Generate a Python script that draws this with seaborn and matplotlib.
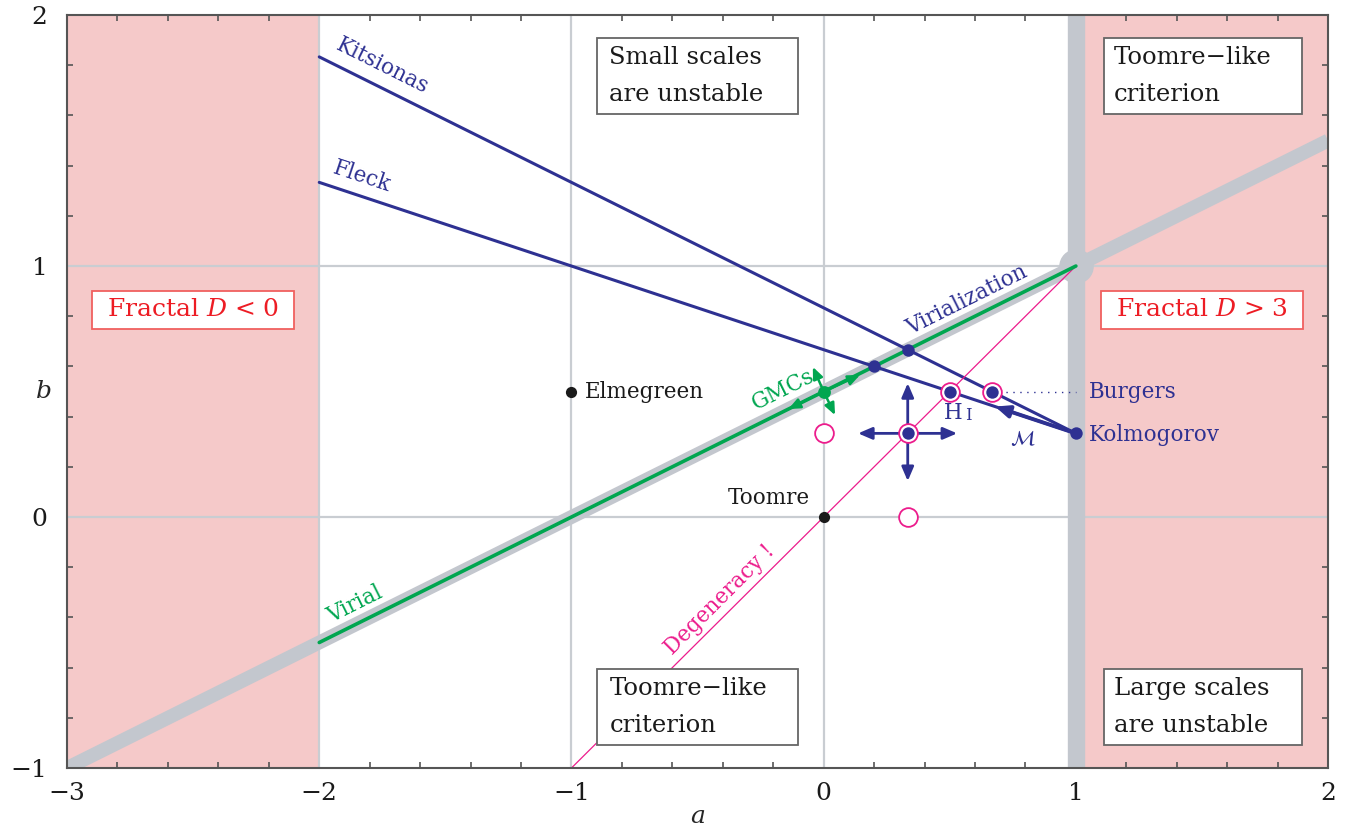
import numpy as np
import pandas as pd
import matplotlib
matplotlib.use("Agg")
import matplotlib.pyplot as plt
from matplotlib.patches import Rectangle
import seaborn as sns

# ---------------- data ----------------
virial_a = [-3.0, 2.0]
virial_b = [-1.0, 1.5]
green_a = [-2.0, 1.0]
green_b = [-0.5, 1.0]
kitsionas_a = [-2.0, 1.0]
kitsionas_b = [1.8333, 0.3333]
fleck_a = [-2.0, 1.0]
fleck_b = [1.3333, 0.3333]
degeneracy_a = [-1.0, 1.0]
degeneracy_b = [-1.0, 1.0]
burgers_dot_a = [0.6667, 1.0]
burgers_dot_b = [0.5, 0.5]

blue_pts_a = [0.2, 0.3333, 0.5, 0.6667, 0.3333, 1.0]
blue_pts_b = [0.6, 0.6667, 0.5, 0.5, 0.3333, 0.3333]
ring_pts_a = [0.0, 0.3333, 0.3333, 0.5, 0.6667]
ring_pts_b = [0.3333, 0.0, 0.3333, 0.5, 0.5]
black_pts_a = [0.0, -1.0]
black_pts_b = [0.0, 0.5]
gmc_a = [0.0]
gmc_b = [0.5]

xticks = [-3, -2, -1, 0, 1, 2]
yticks = [-1, 0, 1, 2]

# colours
PINK = "#f5c9c9"
GRID = "#c9cdd2"
THICK = "#c3c7ce"
BLUE = "#2e3192"
GREEN = "#00a650"
MAG = "#ec1c8c"
RED = "#ed1c24"
DARK = "#555555"

sns.set_theme(style="ticks")
plt.rcParams["font.family"] = ["DejaVu Serif"]
plt.rcParams["mathtext.fontset"] = "dejavuserif"

fig = plt.figure(figsize=(13.57, 8.31), dpi=100)
ax = fig.add_axes([0.0494, 0.0758, 0.9293, 0.9061])

# shaded regions
ax.axvspan(-3, -2, color=PINK, lw=0, zorder=0)
ax.axvspan(1, 2, color=PINK, lw=0, zorder=0)

# grid lines
for v in [-2, -1, 0]:
    ax.axvline(v, color=GRID, lw=1.6, zorder=1)
for h in [0, 1]:
    ax.axhline(h, color=GRID, lw=1.6, zorder=1)

# thick gray bands
sns.lineplot(x=virial_a, y=virial_b, color=THICK, lw=10, ax=ax, zorder=2,
             solid_capstyle="butt", sort=False, legend=False)
ax.axvline(1, color=THICK, lw=12.5, zorder=2)
ax.scatter([1.0], [1.0], s=620, color=THICK, lw=0, zorder=2)

# blue lines
sns.lineplot(x=kitsionas_a, y=kitsionas_b, color=BLUE, lw=2.2, ax=ax, zorder=3, sort=False, legend=False)
sns.lineplot(x=fleck_a, y=fleck_b, color=BLUE, lw=2.2, ax=ax, zorder=3, sort=False, legend=False)
sns.lineplot(x=burgers_dot_a, y=burgers_dot_b, color=BLUE, lw=1.0, ls=(0, (1, 4)), ax=ax, zorder=3, sort=False, legend=False)

# degeneracy
sns.lineplot(x=degeneracy_a, y=degeneracy_b, color=MAG, lw=0.9, ax=ax, zorder=3, sort=False, legend=False)

# green virial line
sns.lineplot(x=green_a, y=green_b, color=GREEN, lw=2.6, ax=ax, zorder=4, sort=False, legend=False)

# boxes
def box(x0, x1, y0, y1, tx, lines, edge="#666666", color="#1a1a1a", ha="left", fs=17.5):
    ax.add_patch(Rectangle((x0, y0), x1 - x0, y1 - y0, facecolor="white",
                           edgecolor=edge, lw=1.3, zorder=5))
    ax.text(tx, (y0 + y1) / 2, lines, ha=ha, va="center", fontsize=fs,
            color=color, zorder=6, linespacing=1.75)

box(-0.898, -0.100, 1.605, 1.908, -0.850, "Small scales\nare unstable")
box(1.112, 1.897, 1.605, 1.908, 1.152, "Toomre\u2212like\ncriterion")
box(-0.898, -0.100, -0.908, -0.605, -0.850, "Toomre\u2212like\ncriterion")
box(1.112, 1.897, -0.908, -0.605, 1.152, "Large scales\nare unstable")
box(-2.900, -2.100, 0.750, 0.900, -2.500, "Fractal $D$ < 0", edge="#f0605f",
    color=RED, ha="center", fs=18)
box(1.100, 1.900, 0.750, 0.900, 1.500, "Fractal $D$ > 3", edge="#f0605f",
    color=RED, ha="center", fs=18)

# arrows
def arrow(start, tip, color, lw=2.0, ms=12):
    ax.annotate("", xy=tip, xytext=start,
                arrowprops=dict(arrowstyle="-|>,head_length=0.7,head_width=0.3",
                                color=color, lw=lw,
                                mutation_scale=ms, shrinkA=0, shrinkB=0),
                zorder=7)

hx, hy = 0.3333, 0.3333
for dx, dy in [(-0.197, 0), (0.196, 0), (0, 0.2), (0, -0.19)]:
    arrow((hx, hy), (hx + dx, hy + dy), BLUE, lw=2.0, ms=12)
arrow((1.0, 0.3333), (0.68, 0.44), BLUE, lw=2.8, ms=12)
for tip in [(0.144, 0.566), (-0.14, 0.43), (-0.043, 0.598), (0.045, 0.406)]:
    arrow((0.0, 0.5), tip, GREEN, lw=1.8, ms=10)

# points
ax.plot(ring_pts_a, ring_pts_b, ls="none", marker="o", ms=13.5, mfc="white",
        mec=MAG, mew=1.3, zorder=8)
sns.scatterplot(x=blue_pts_a, y=blue_pts_b, color=BLUE, s=80, lw=0, ax=ax, zorder=9, legend=False)
sns.scatterplot(x=black_pts_a, y=black_pts_b, color="#1a1a1a", s=65, lw=0, ax=ax, zorder=9, legend=False)
sns.scatterplot(x=gmc_a, y=gmc_b, color=GREEN, s=85, lw=0, ax=ax, zorder=9, legend=False)

# labels
fs = 15.5
ax.text(-1.75, 1.795, "Kitsionas", color=BLUE, fontsize=fs, rotation=-26.5,
        ha="center", va="center", rotation_mode="anchor", zorder=6)
ax.text(-1.83, 1.355, "Fleck", color=BLUE, fontsize=fs, rotation=-18.4,
        ha="center", va="center", rotation_mode="anchor", zorder=6)
ax.text(0.569, 0.865, "Virialization", color=BLUE, fontsize=fs, rotation=26.5,
        ha="center", va="center", rotation_mode="anchor", zorder=6)
ax.text(-1.858, -0.347, "Virial", color=GREEN, fontsize=fs, rotation=26.5,
        ha="center", va="center", rotation_mode="anchor", zorder=6)
ax.text(-0.163, 0.506, "GMCs", color=GREEN, fontsize=fs, rotation=26.5,
        ha="center", va="center", rotation_mode="anchor", zorder=6)
ax.text(-0.41, -0.33, "Degeneracy !", color=MAG, fontsize=fs, rotation=45,
        ha="center", va="center", rotation_mode="anchor", zorder=6)
ax.text(0.515, 0.414, "H", color=BLUE, fontsize=fs, ha="center", va="center", zorder=6)
ax.text(0.575, 0.405, "I", color=BLUE, fontsize=12, ha="center", va="center", zorder=6)
ax.text(0.79, 0.31, r"$\mathcal{M}$", color=BLUE, fontsize=15, ha="center", va="center", zorder=6)
ax.text(1.053, 0.5, "Burgers", color=BLUE, fontsize=fs, ha="left", va="center", zorder=6)
ax.text(1.053, 0.327, "Kolmogorov", color=BLUE, fontsize=fs, ha="left", va="center", zorder=6)
ax.text(-0.946, 0.5, "Elmegreen", color="#1a1a1a", fontsize=fs, ha="left", va="center", zorder=6)
ax.text(-0.054, 0.076, "Toomre", color="#1a1a1a", fontsize=fs, ha="right", va="center", zorder=6)

# axes
ax.set_xlim(-3, 2)
ax.set_ylim(-1, 2)
ax.set_xticks(xticks)
ax.set_yticks(yticks)
ax.set_xticklabels([f"{t}".replace("-", "\u2212") for t in xticks])
ax.set_yticklabels([f"{t}".replace("-", "\u2212") for t in yticks])
ax.set_xticks(np.arange(-3, 2.01, 0.2), minor=True)
ax.set_yticks(np.arange(-1, 2.01, 0.2), minor=True)
ax.tick_params(which="both", direction="in", top=True, right=True, color=DARK, width=1.2)
ax.tick_params(which="major", length=9, labelsize=18, labelcolor="#1a1a1a")
ax.tick_params(axis="x", which="major", pad=10)
ax.tick_params(axis="y", which="major", pad=14)
ax.tick_params(which="minor", length=4.5)
for s in ax.spines.values():
    s.set_color(DARK)
    s.set_linewidth(1.5)
    s.set_zorder(10)

ax.set_xlabel("a", fontsize=18, fontstyle="italic", labelpad=0)
ax.set_ylabel("b", fontsize=18, fontstyle="italic", rotation=0, va="center")
ax.yaxis.set_label_coords(-0.018, 0.5)

fig.savefig("out.png", dpi=100)
